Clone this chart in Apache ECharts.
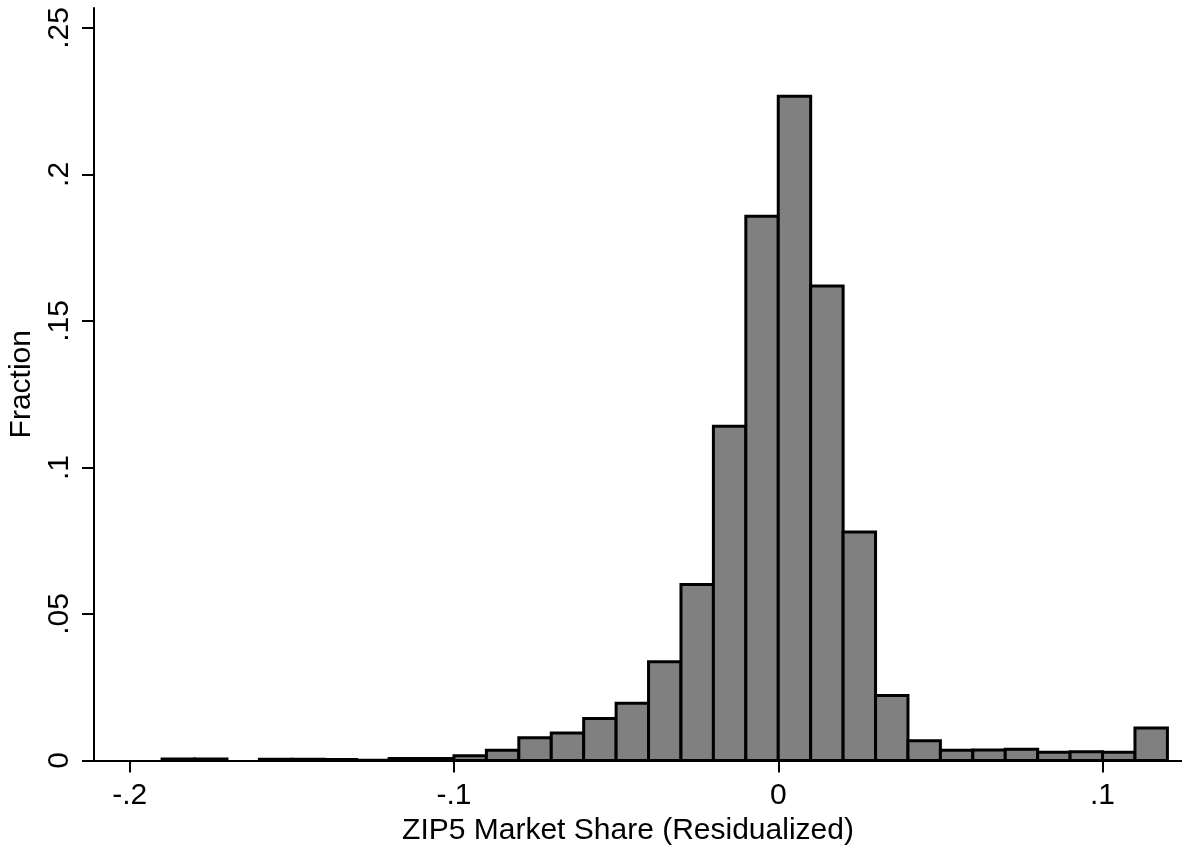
<!DOCTYPE html>
<html><head><meta charset="utf-8">
<script src="https://cdn.jsdelivr.net/npm/echarts@6/dist/echarts.min.js"></script>
<style>html,body{margin:0;padding:0;background:#fff}#c{width:1182px;height:846px}</style>
</head><body><div id="c"></div>
<script>
const binWidth = 0.01;
const binStarts = [-0.20,-0.19,-0.18,-0.17,-0.16,-0.15,-0.14,-0.13,-0.12,-0.11,
                   -0.10,-0.09,-0.08,-0.07,-0.06,-0.05,-0.04,-0.03,-0.02,-0.01,
                    0.00, 0.01, 0.02, 0.03, 0.04, 0.05, 0.06, 0.07, 0.08, 0.09,
                    0.10, 0.11];
const fractions = [0, 0.0005, 0.0005, 0, 0.0004, 0.0004, 0.0003, 0.0001, 0.0007, 0.0007,
                   0.0016, 0.0035, 0.0078, 0.0094, 0.0143, 0.0195, 0.0337, 0.0601, 0.1141, 0.1857,
                   0.2267, 0.1619, 0.0780, 0.0222, 0.0067, 0.0035, 0.0036, 0.0038, 0.0028, 0.0030,
                   0.0028, 0.0111];
const xTicks = [-0.2, -0.1, 0, 0.1];
const yTicks = [0, 0.05, 0.1, 0.15, 0.2, 0.25];
const xTitle = 'ZIP5 Market Share (Residualized)';
const yTitle = 'Fraction';

function fmt(v){
  const r = Math.round(v*100)/100;
  if (r === 0) return '0';
  return String(r).replace('0.', '.');
}
const FONT = 'Liberation Sans, Arial, Helvetica, sans-serif';
const data = [];
binStarts.forEach((s,i)=>{ if (fractions[i] > 0) data.push([s, s+binWidth, fractions[i]]); });

const chart = echarts.init(document.getElementById('c'), null, {renderer:'canvas'});
chart.setOption({
  animation:false,
  backgroundColor:'#fff',
  grid:{left:94, right:0, top:8, bottom:85.5, containLabel:false, outerBoundsMode:'none'},
  xAxis:{
    type:'value', min:-0.211, max:0.1245,
    name:xTitle, nameLocation:'middle', nameGap:47,
    nameTextStyle:{fontFamily:FONT, fontSize:30, color:'#000', padding:[0,20,0,0]},
    axisLine:{show:true, onZero:false, lineStyle:{color:'#000', width:2}},
    axisTick:{show:true, length:12, lineStyle:{color:'#000', width:2}, customValues:xTicks},
    axisLabel:{show:true, customValues:xTicks, formatter:fmt, margin:20,
               fontFamily:FONT, fontSize:30, color:'#000'},
    splitLine:{show:false}
  },
  yAxis:{
    type:'value', min:0, max:0.2568,
    name:yTitle, nameLocation:'middle', nameGap:49,
    nameTextStyle:{fontFamily:FONT, fontSize:30, color:'#000'},
    axisLine:{show:true, onZero:false, lineStyle:{color:'#000', width:2}},
    axisTick:{show:true, length:12, lineStyle:{color:'#000', width:2}, customValues:yTicks},
    axisLabel:{show:true, customValues:yTicks, formatter:fmt, rotate:90, margin:19,
               fontFamily:FONT, fontSize:30, color:'#000'},
    splitLine:{show:false}
  },
  series:[{
    type:'custom',
    data:data,
    encode:{x:[0,1], y:2},
    renderItem:function(params, api){
      const p0 = api.coord([api.value(0), 0]);
      const p1 = api.coord([api.value(1), api.value(2)]);
      return {type:'rect',
        shape:{x:p0[0], y:p1[1], width:p1[0]-p0[0], height:p0[1]-p1[1]},
        style:{fill:'#808080', stroke:'#000', lineWidth:3}};
    }
  }]
});
</script></body></html>
